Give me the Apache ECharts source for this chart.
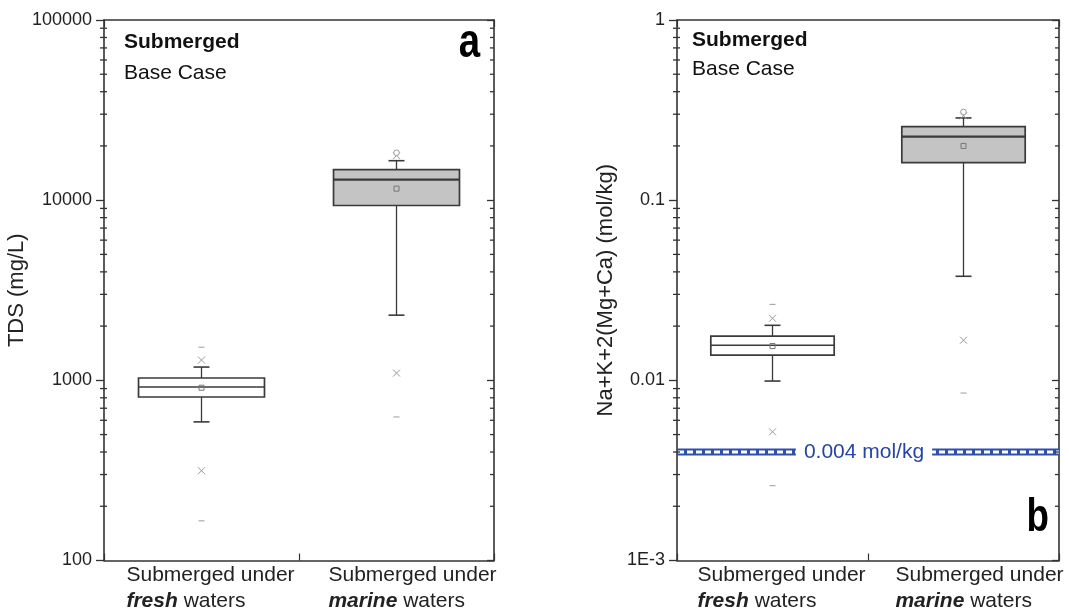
<!DOCTYPE html>
<html><head><meta charset="utf-8">
<script src="https://cdn.jsdelivr.net/npm/echarts@6/dist/echarts.min.js"></script>
<style>html,body{margin:0;padding:0;background:#fff}#c{width:1069px;height:612px}</style>
</head><body><div id="c"></div>
<script>
// ---------- data ----------
const categories = ['Submerged under fresh waters', 'Submerged under marine waters'];

const tdsTickLabels = ['100', '1000', '10000', '100000'];
const tdsMinorTicks = [200, 300, 400, 500, 600, 700, 800, 900,
  2000, 3000, 4000, 5000, 6000, 7000, 8000, 9000,
  20000, 30000, 40000, 50000, 60000, 70000, 80000, 90000];
const tdsMin = [166, 626];
const tdsP1 = [315, 1097];
const tdsLowerWhisker = [588, 2300];
const tdsQ1 = [808, 9340];
const tdsMedian = [918, 13000];
const tdsMean = [910, 11590];
const tdsQ3 = [1030, 14770];
const tdsUpperWhisker = [1185, 16560];
const tdsP99 = [1295, 17660];
const tdsMax = [1528, 18340];

const ionTickLabels = ['1E-3', '0.01', '0.1', '1'];
const ionMinorTicks = [0.002, 0.003, 0.004, 0.005, 0.006, 0.007, 0.008, 0.009,
  0.02, 0.03, 0.04, 0.05, 0.06, 0.07, 0.08, 0.09,
  0.2, 0.3, 0.4, 0.5, 0.6, 0.7, 0.8, 0.9];
const ionMin = [0.0026, 0.0085];
const ionP1 = [0.00518, 0.0167];
const ionLowerWhisker = [0.00991, 0.0378];
const ionQ1 = [0.0138, 0.1615];
const ionMedian = [0.01567, 0.225];
const ionMean = [0.0155, 0.200];
const ionQ3 = [0.0176, 0.256];
const ionUpperWhisker = [0.0202, 0.286];
const ionP99 = [0.0221, 0.294];
const ionMax = [0.0264, 0.309];
const ionThreshold = [0.004];
const ionThresholdLabel = '0.004 mol/kg';

// ---------- helpers ----------
const FONT = "'Liberation Sans', Arial, sans-serif";
const AXIS = '#333';

function boxData(mn, p1, lw, q1, med, mean, q3, uw, p99, mx) {
  return categories.map((c, i) => [i, lw[i], q1[i], med[i], q3[i], uw[i], mean[i], p1[i], p99[i], mn[i], mx[i]]);
}

function boxRender(params, api) {
  const ci = api.value(0);
  const Y = v => api.coord([ci, v])[1];
  const x = api.coord([ci, api.value(3)])[0];
  const band = api.size([1, 0])[0];
  const hw = band * 0.323;
  const lw = Y(api.value(1)), q1 = Y(api.value(2)), med = Y(api.value(3)), q3 = Y(api.value(4)),
        uw = Y(api.value(5)), mean = Y(api.value(6)), p1 = Y(api.value(7)), p99 = Y(api.value(8)),
        mn = Y(api.value(9)), mx = Y(api.value(10));
  const dark = '#3a3a3a', sym = '#999';
  const fill = ci === 1 ? '#c4c4c4' : '#ffffff';
  const line = (x1, y1, x2, y2, color, w) => ({ type: 'line', shape: { x1, y1, x2, y2 }, style: { stroke: color, lineWidth: w } });
  const cross = cy => [line(x - 3.5, cy - 3.5, x + 3.5, cy + 3.5, sym, 1), line(x - 3.5, cy + 3.5, x + 3.5, cy - 3.5, sym, 1)];
  const children = [
    line(x, q3, x, uw, dark, 1.3),
    line(x, q1, x, lw, dark, 1.3),
    line(x - 8, uw, x + 8, uw, dark, 1.6),
    line(x - 8, lw, x + 8, lw, dark, 1.6),
    { type: 'rect', shape: { x: x - hw, y: q3, width: 2 * hw, height: q1 - q3 }, style: { fill, stroke: dark, lineWidth: 1.7 } },
    line(x - hw, med, x + hw, med, dark, ci === 1 ? 2.2 : 1.6),
    { type: 'rect', shape: { x: x - 2.5, y: mean - 2.5, width: 5, height: 5 }, style: { fill: 'none', stroke: '#777', lineWidth: 1 } },
    ...cross(p1), ...cross(p99),
    line(x - 3, mn, x + 3, mn, sym, 1)
  ];
  if (ci === 1) children.push({ type: 'circle', shape: { cx: x, cy: mx, r: 2.8 }, style: { fill: '#fff', stroke: sym, lineWidth: 1 } });
  else children.push(line(x - 3, mx, x + 3, mx, sym, 1));
  return { type: 'group', children };
}

function minorRender(params, api) {
  const cs = params.coordSys;
  const y = api.coord([0, api.value(1)])[1];
  return { type: 'group', children: [
    { type: 'line', shape: { x1: cs.x - 4, y1: y, x2: cs.x + 3, y2: y }, style: { stroke: AXIS, lineWidth: 1.3 } },
    { type: 'line', shape: { x1: cs.x + cs.width - 4, y1: y, x2: cs.x + cs.width, y2: y }, style: { stroke: AXIS, lineWidth: 1.3 } }
  ] };
}

function thresholdRender(params, api) {
  const cs = params.coordSys;
  const y = api.coord([0, api.value(1)])[1];
  const x0 = cs.x, x1 = cs.x + cs.width;
  return { type: 'group', children: [
    { type: 'line', shape: { x1: x0, y1: y, x2: x1, y2: y }, style: { stroke: '#2f4fae', lineWidth: 7 } },
    { type: 'line', shape: { x1: x0 + 1, y1: y, x2: x1, y2: y }, style: { stroke: '#fff', lineWidth: 3, lineDash: [6, 3] } },
    { type: 'text', x: x0 + cs.width / 2 - 4, y: y, style: {
        text: ionThresholdLabel, fill: '#2646a6', font: '21px ' + FONT,
        align: 'center', verticalAlign: 'middle', backgroundColor: '#fff', padding: [2, 8] } }
  ] };
}

function catLabel(c, i) {
  const w = c.split(' ');
  const p = '{p' + i + '| }';
  return p + '{n|' + w[0] + ' ' + w[1] + '}\n' + p + '{b|' + w[2] + '}{n| ' + w.slice(3).join(' ') + '}';
}

function xAxes(g) {
  return [
    { type: 'category', gridIndex: g, data: categories, position: 'bottom', boundaryGap: true,
      axisLine: { lineStyle: { color: AXIS, width: 1.6 } },
      axisTick: { show: true, inside: true, length: 7, lineStyle: { color: AXIS, width: 1.2 } },
      axisLabel: { margin: 2, formatter: catLabel, interval: 0,
        rich: {
          p0: { width: 18, align: 'left', fontSize: 21, lineHeight: 26 },
          p1: { width: 32, align: 'left', fontSize: 21, lineHeight: 26 },
          n: { fontSize: 21, fontFamily: FONT, color: '#222', align: 'left', lineHeight: 26 },
          b: { fontSize: 21, fontFamily: FONT, color: '#222', align: 'left', lineHeight: 26, fontWeight: 'bold', fontStyle: 'italic' }
        } },
      splitLine: { show: false } },
    { type: 'category', gridIndex: g, data: categories, position: 'top', boundaryGap: true,
      axisLine: { lineStyle: { color: AXIS, width: 1.6 } },
      axisTick: { show: true, inside: true, length: 7, lineStyle: { color: AXIS, width: 1.2 } },
      axisLabel: { show: false }, splitLine: { show: false } }
  ];
}

function yAxes(g, min, max, labels, name, nameGap) {
  const base = Math.round(Math.log10(min));
  return [
    { type: 'log', logBase: 10, gridIndex: g, min, max, position: 'left',
      axisLine: { show: true, lineStyle: { color: AXIS, width: 1.6 } },
      axisTick: { show: true, inside: false, length: 8, lineStyle: { color: AXIS, width: 1.3 } },
      axisLabel: { margin: 12, fontSize: 18, fontFamily: FONT, color: '#222',
        formatter: v => labels[Math.round(Math.log10(v)) - base] },
      splitLine: { show: false },
      name, nameLocation: 'middle', nameGap,
      nameTextStyle: { fontSize: 22, fontFamily: FONT, color: '#222' } },
    { type: 'log', logBase: 10, gridIndex: g, min, max, position: 'right',
      axisLine: { show: true, lineStyle: { color: AXIS, width: 1.6 } },
      axisTick: { show: true, inside: true, length: 7, lineStyle: { color: AXIS, width: 1.3 } },
      axisLabel: { show: false }, splitLine: { show: false } }
  ];
}

const chart = echarts.init(document.getElementById('c'), null, { renderer: 'canvas' });
chart.setOption({
  animation: false,
  backgroundColor: '#fff',
  grid: [
    { left: 104, right: 575, top: 20, bottom: 50 },
    { left: 677, right: 10, top: 20, bottom: 50 }
  ],
  xAxis: [...xAxes(0), ...xAxes(1)],
  yAxis: [
    ...yAxes(0, 100, 100000, tdsTickLabels, 'TDS (mg/L)', 71),
    ...yAxes(1, 0.001, 1, ionTickLabels, 'Na+K+2(Mg+Ca) (mol/kg)', 60)
  ],
  series: [
    { type: 'custom', name: 'TDS', xAxisIndex: 0, yAxisIndex: 0, renderItem: boxRender,
      encode: { x: 0, y: 3 }, silent: true,
      data: boxData(tdsMin, tdsP1, tdsLowerWhisker, tdsQ1, tdsMedian, tdsMean, tdsQ3, tdsUpperWhisker, tdsP99, tdsMax) },
    { type: 'custom', name: 'tdsMinor', xAxisIndex: 0, yAxisIndex: 0, renderItem: minorRender, silent: true,
      encode: { x: 0, y: 1 }, data: tdsMinorTicks.map(v => [0, v]) },
    { type: 'custom', name: 'threshold', xAxisIndex: 2, yAxisIndex: 2, renderItem: thresholdRender, silent: true,
      encode: { x: 0, y: 1 }, data: ionThreshold.map(v => [0, v]) },
    { type: 'custom', name: 'Ions', xAxisIndex: 2, yAxisIndex: 2, renderItem: boxRender,
      encode: { x: 0, y: 3 }, silent: true,
      data: boxData(ionMin, ionP1, ionLowerWhisker, ionQ1, ionMedian, ionMean, ionQ3, ionUpperWhisker, ionP99, ionMax) },
    { type: 'custom', name: 'ionMinor', xAxisIndex: 2, yAxisIndex: 2, renderItem: minorRender, silent: true,
      encode: { x: 0, y: 1 }, data: ionMinorTicks.map(v => [0, v]) }
  ],
  graphic: [
    { type: 'text', left: 124, top: 32, style: { text: 'Submerged', font: 'bold 21px ' + FONT, fill: '#111' } },
    { type: 'text', left: 124, top: 63, style: { text: 'Base Case', font: '21px ' + FONT, fill: '#111' } },
    { type: 'text', left: 692, top: 30, style: { text: 'Submerged', font: 'bold 21px ' + FONT, fill: '#111' } },
    { type: 'text', left: 692, top: 59, style: { text: 'Base Case', font: '21px ' + FONT, fill: '#111' } },
    { type: 'text', x: 480, y: 44, scaleX: 0.8, style: { text: 'a', font: 'bold 48px ' + FONT, fill: '#000', align: 'right', verticalAlign: 'middle' } },
    { type: 'text', x: 1049, y: 518, scaleX: 0.8, style: { text: 'b', font: 'bold 46px ' + FONT, fill: '#000', align: 'right', verticalAlign: 'middle' } }
  ]
});
</script>
</body></html>
